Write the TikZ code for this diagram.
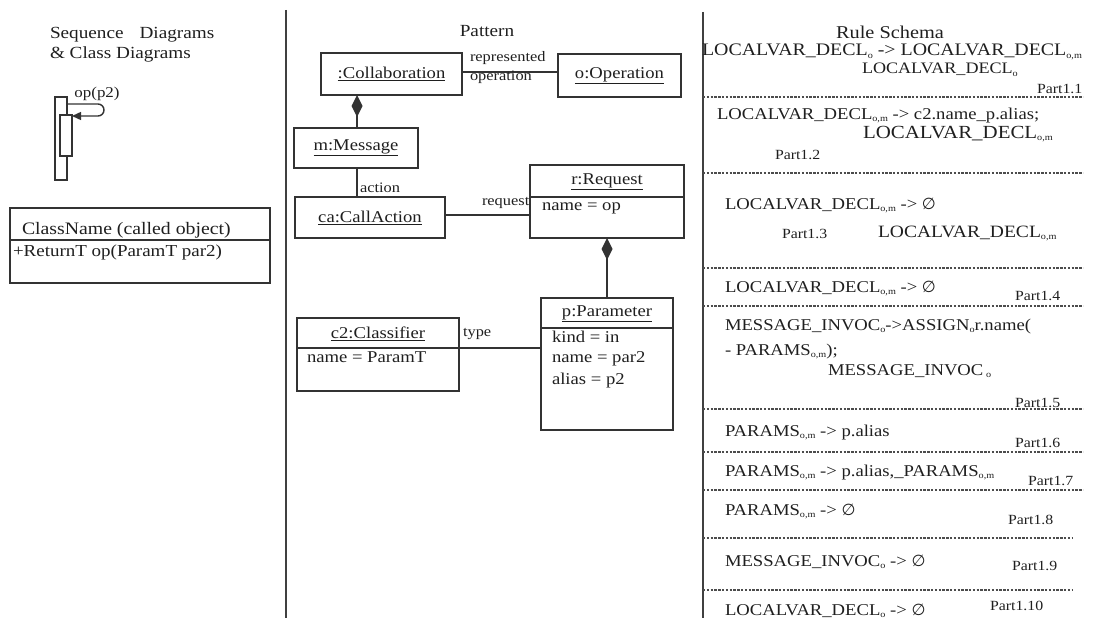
\documentclass[tikz,border=0pt]{standalone}
\usepackage{fontspec}
\setmainfont{Liberation Serif}[FakeStretch=1.13]
\newfontfamily\symf{DejaVu Sans}
\usetikzlibrary{arrows.meta}
% lowered index used in the rule schema
\newcommand\sbs[1]{\raisebox{-0.35ex}{\fontsize{9}{9}\selectfont #1}}
% empty set
\newcommand\es{{\symf\fontsize{16}{16}\selectfont ∅}}
\newcommand\fs[1]{\fontsize{#1}{#1}\selectfont}

\tikzset{
  every node/.style={text=black!88},
  box/.style={draw=black!80, line width=1.6pt, inner sep=0pt, outer sep=0pt, fill=white, font=\fs{16.5}},
  tx/.style={inner sep=0pt, outer sep=0pt, font=\fs{16.5}},
  lb/.style={inner sep=0pt, outer sep=0pt, font=\fs{14.5}},
  pt/.style={inner sep=0pt, outer sep=0pt, font=\fs{14}},
  sep/.style={draw=black!75, line width=1.3pt},
  rule/.style={draw=black!70, line width=1.4pt, dash pattern=on 2.4pt off 1.4pt},
  conn/.style={draw=black!80, line width=1.6pt},
}

\begin{document}
\begin{tikzpicture}[x=1pt, y=-1pt]
\useasboundingbox (0,0) rectangle (1105,618);

% column separators
\draw[sep] (286,10) -- (286,618);
\draw[sep] (703,12) -- (703,618);

% ---------- left column: sequence and class diagrams ----------
\node[tx, anchor=base west, font=\fs{17}] (seqhead) at (50,38) {Sequence\hspace{16pt}Diagrams};
\node[tx, anchor=base west, font=\fs{17}] (clshead) at (50,59) {\& Class Diagrams};

\node[box, minimum width=12pt, minimum height=83pt] (life) at (61,138.5) {};
\node[box, minimum width=12pt, minimum height=41pt] (act) at (66,135.5) {};
\coordinate (selfout) at (67,104);
\node[lb, font=\fs{15}] (selflbl) at (97,94) {op(p2)};
\draw[conn, line width=1.4pt, rounded corners=6pt, -{Triangle[length=9pt,width=8pt]}]
  (selfout) -- (104,104) -- (104,116) -- (act.east |- 0,116);

\node[box, minimum width=260pt, minimum height=75pt] (cls) at (140,245.5) {};
\draw[conn] (cls.west |- 0,240) -- (cls.east |- 0,240);
\node[tx, anchor=base west, font=\fs{17.5}] (clsname) at (22,234) {ClassName (called object)};
\node[tx, anchor=base west, font=\fs{16.8}] (clsop) at (13,256) {+ReturnT op(ParamT par2)};

% ---------- middle column: pattern ----------
\node[tx, font=\fs{17}] (pathead) at (487,31) {Pattern};

\node[box, minimum width=141pt, minimum height=42pt] (collab) at (391.5,74) {\underline{:Collaboration}};
\node[box, minimum width=123pt, minimum height=43pt] (oper) at (619.5,75.5) {\underline{o:Operation}};
\node[box, minimum width=124pt, minimum height=40pt] (msg) at (356,148) {\underline{m:Message}};
\node[box, minimum width=150pt, minimum height=41pt] (call) at (370,217.5) {\underline{ca:CallAction}};

\node[box, minimum width=154pt, minimum height=73pt] (req) at (607,201.5) {};
\draw[conn] (req.west |- 0,197) -- (req.east |- 0,197);
\node[tx] (reqT) at (607,182) {\underline{r:Request}};
\node[tx, anchor=base west] (reqA) at (542,210) {name = op};

\node[box, minimum width=132pt, minimum height=132pt] (param) at (607,364) {};
\draw[conn] (param.west |- 0,328) -- (param.east |- 0,328);
\node[tx] (paramT) at (607,314) {\underline{p:Parameter}};
\node[tx, anchor=base west] (paramA) at (552,342) {kind = in};
\node[tx, anchor=base west] (paramB) at (552,362) {name = par2};
\node[tx, anchor=base west] (paramC) at (552,384) {alias = p2};

\node[box, minimum width=162pt, minimum height=73pt] (clsf) at (378,354.5) {};
\coordinate (clsfdiv) at (378,348);
\draw[conn] (clsfdiv -| clsf.west) -- (clsfdiv -| clsf.east);
\node[tx] (clsfT) at (378,334) {\underline{c2:Classifier}};
\node[tx, anchor=base west] (clsfA) at (307,362) {name = ParamT};

% associations
\draw[conn] (collab.east |- 0,72) -- (oper.west |- 0,72);
\node[lb, anchor=west] (lrep) at (470,58) {represented};
\node[lb, anchor=west] (lop) at (470,77) {operation};

\draw[conn, -{Diamond[length=22pt,width=11pt]}] (msg.north -| 357,0) -- (collab.south -| 357,0);
\draw[conn] (msg.south -| 357,0) -- (call.north -| 357,0);
\node[lb, anchor=west] (lact) at (360,188) {action};

\draw[conn] (call.east |- 0,215) -- (req.west |- 0,215);
\node[lb, anchor=west] (lreq) at (482,203) {request};

\draw[conn, -{Diamond[length=22pt,width=11pt]}] (param.north) -- (req.south);

\draw[conn] (clsfdiv -| clsf.east) -- (clsfdiv -| param.west);
\node[lb, anchor=west] (ltype) at (463,334) {type};

% ---------- right column: rule schema ----------
\node[tx, anchor=base, font=\fs{18}] (rshead) at (890,38) {Rule Schema};

\node[tx, anchor=base west, font=\fs{17.6}] (r1a) at (702,56) {LOCALVAR\_DECL\sbs{o} -> LOCALVAR\_DECL\sbs{o,m}};
\node[tx, anchor=base west, font=\fs{16}] (r1b) at (862,74) {LOCALVAR\_DECL\sbs{o}};
\node[pt, anchor=base west] (p1) at (1037,93) {Part1.1};
\draw[rule] (703,97) -- (1083,97);

\node[tx, anchor=base west] (r2a) at (717,119) {LOCALVAR\_DECL\sbs{o,m} -> c2.name\_p.alias;};
\node[tx, anchor=base west, font=\fs{18.5}] (r2b) at (863,138) {LOCALVAR\_DECL\sbs{o,m}};
\node[pt, anchor=base west] (p2) at (775,159) {Part1.2};
\draw[rule] (703,173) -- (1083,173);

\node[tx, anchor=base west] (r3a) at (725,209) {LOCALVAR\_DECL\sbs{o,m} -> \es};
\node[pt, anchor=base west] (p3) at (782,238) {Part1.3};
\node[tx, anchor=base west, font=\fs{17.3}] (r3b) at (878,237) {LOCALVAR\_DECL\sbs{o,m}};
\draw[rule] (703,268) -- (1083,268);

\node[tx, anchor=base west] (r4) at (725,292) {LOCALVAR\_DECL\sbs{o,m} -> \es};
\node[pt, anchor=base west] (p4) at (1015,300) {Part1.4};
\draw[rule] (703,306) -- (1083,306);

\node[tx, anchor=base west] (r5a) at (725,330) {MESSAGE\_INVOC\sbs{o}->ASSIGN\sbs{o}r.name(};
\node[tx, anchor=base west] (r5b) at (725,355) {- PARAMS\sbs{o,m});};
\node[tx, anchor=base west] (r5c) at (828,375) {MESSAGE\_INVOC\,\sbs{o}};
\node[pt, anchor=base west] (p5) at (1015,407) {Part1.5};
\draw[rule] (703,409) -- (1083,409);

\node[tx, anchor=base west] (r6) at (725,436) {PARAMS\sbs{o,m} -> p.alias};
\node[pt, anchor=base west] (p6) at (1015,447) {Part1.6};
\draw[rule] (703,452) -- (1083,452);

\node[tx, anchor=base west] (r7) at (725,476) {PARAMS\sbs{o,m} -> p.alias,\_PARAMS\sbs{o,m}};
\node[pt, anchor=base west] (p7) at (1028,485) {Part1.7};
\draw[rule] (703,490) -- (1083,490);

\node[tx, anchor=base west] (r8) at (725,515) {PARAMS\sbs{o,m} -> \es};
\node[pt, anchor=base west] (p8) at (1008,524) {Part1.8};
\draw[rule] (703,538) -- (1073,538);

\node[tx, anchor=base west] (r9) at (725,566) {MESSAGE\_INVOC\sbs{o} -> \es};
\node[pt, anchor=base west] (p9) at (1012,570) {Part1.9};
\draw[rule] (703,590) -- (1073,590);

\node[tx, anchor=base west] (r10) at (725,615) {LOCALVAR\_DECL\sbs{o} -> \es};
\node[pt, anchor=base west] (p10) at (990,610) {Part1.10};
\end{tikzpicture}
\end{document}
